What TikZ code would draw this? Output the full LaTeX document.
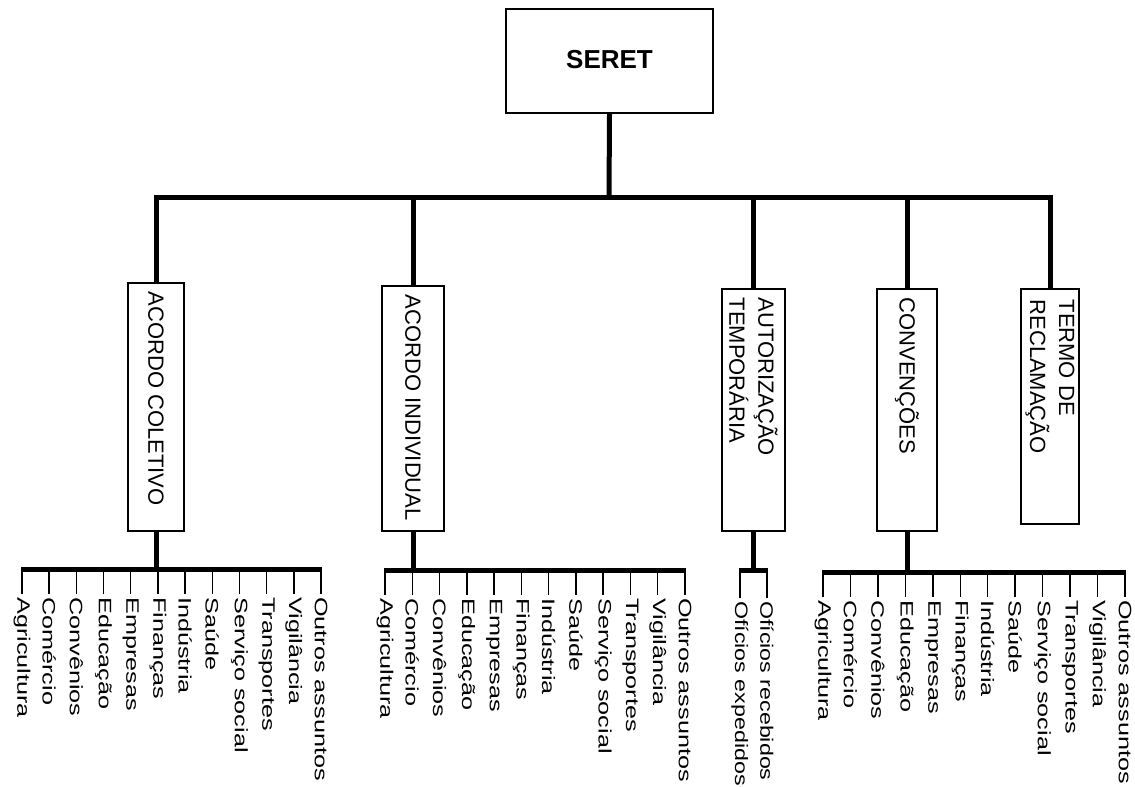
\documentclass[tikz,border=0pt]{standalone}
\usepackage{graphicx}
\usepackage{fontspec}
\setmainfont{Liberation Sans}
\newcommand\strtxt[1]{\scalebox{1.4}[1]{#1}}
\newcommand\strtxtb[1]{\scalebox{1.29}[1]{#1}}
\tikzset{
  bus/.style={line width=5pt, line join=miter, line cap=butt},
  leafline/.style={line width=1.5pt},
  boxnode/.style={draw, line width=1.2pt, inner sep=0pt},
  boxtext/.style={rotate=-90, anchor=west, inner sep=0pt, align=left, font=\fontsize{22}{29}\selectfont},
  leaftext/.style={rotate=-90, anchor=west, inner xsep=3pt, inner ysep=0pt, font=\fontsize{18}{21}\selectfont},
}
\begin{document}
\begin{tikzpicture}[x=1pt,y=-1pt]
\useasboundingbox[fill=white] (0,0) rectangle (1135,787);

% top
\node[draw, line width=2pt, minimum width=207pt, minimum height=104pt, inner sep=0pt,
      font=\fontsize{26}{30}\selectfont\bfseries] (seret) at (609.5,61) {\raisebox{4pt}{SERET}};

% second level boxes
\node[boxnode, minimum width=56pt, minimum height=248pt] (b1) at (156,407) {};
\node[boxnode, minimum width=62pt, minimum height=245pt] (b2) at (413,408.5) {};
\node[boxnode, minimum width=63pt, minimum height=242pt] (b3) at (753.5,410) {};
\node[boxnode, minimum width=60pt, minimum height=242pt] (b4) at (907,410) {};
\node[boxnode, minimum width=58pt, minimum height=235pt] (b5) at (1050,406.5) {};

\node[boxtext] (t1) at ([yshift=-9pt]b1.north) {ACORDO COLETIVO};
\node[boxtext] (t2) at ([yshift=-9pt]b2.north) {ACORDO INDIVIDUAL};
\node[boxtext] (t3) at ([yshift=-9pt]b3.north) {AUTORIZAÇÃO\\TEMPORÁRIA};
\node[boxtext] (t4) at ([yshift=-9pt]b4.north) {CONVENÇÕES};
\node[boxtext] (t5) at ([yshift=-11pt]b5.north) {TERMO DE\\RECLAMAÇÃO};

% top connectors
\coordinate (jt) at (609,197);
\draw[bus] (seret.south) -- (jt);
\draw[bus] (b1.north) -- (b1.north |- jt) -- (b5.north |- jt) -- (b5.north);
\foreach \b in {b2,b3,b4} {\draw[bus] (\b.north) -- (\b.north |- jt);}

% leaf groups
\foreach \t [count=\i from 0] in {Agricultura,Comércio,Convênios,Educação,Empresas,Finanças,Indústria,Saúde,{Serviço social},Transportes,Vigilância,{Outros assuntos}} {
  \node[leaftext] (ga\i) at ({22+\i*27.18},594) {\strtxt{\t}};
  \node[leaftext] (gb\i) at ({385+\i*27.27},595) {\strtxt{\t}};
  \node[leaftext] (gd\i) at ({823+\i*27.45},597) {\strtxt{\t}};
}
\node[leaftext] (gc0) at (740,598) {\strtxtb{Ofícios expedidos}};
\node[leaftext] (gc1) at (767,598) {\strtxtb{Ofícios recebidos}};

\coordinate (ja) at (156,569);
\coordinate (jb) at (413,570);
\coordinate (jc) at (753.5,570);
\coordinate (jd) at (907,572);

\draw[bus] (b1.south) -- (ja);
\draw[bus] (b2.south) -- (jb);
\draw[bus] (b3.south) -- (jc);
\draw[bus] (b4.south) -- (jd);

\draw[bus] ([xshift=-0.75pt]ga0.west |- ja) -- ([xshift=0.75pt]ga11.west |- ja);
\draw[bus] ([xshift=-0.75pt]gb0.west |- jb) -- ([xshift=0.75pt]gb11.west |- jb);
\draw[bus] ([xshift=-0.75pt]gc0.west |- jc) -- ([xshift=0.75pt]gc1.west |- jc);
\draw[bus] ([xshift=-0.75pt]gd0.west |- jd) -- ([xshift=0.75pt]gd11.west |- jd);

\foreach \i in {0,...,11} {
  \draw[leafline] (ga\i.west |- ja) -- (ga\i.west);
  \draw[leafline] (gb\i.west |- jb) -- (gb\i.west);
  \draw[leafline] (gd\i.west |- jd) -- (gd\i.west);
}
\foreach \i in {0,1} {\draw[leafline] (gc\i.west |- jc) -- (gc\i.west);}
\end{tikzpicture}
\end{document}
